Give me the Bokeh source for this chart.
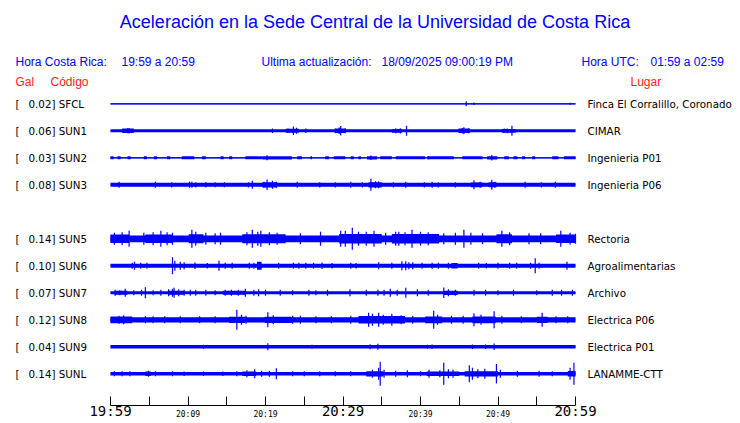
from bokeh.plotting import figure
from bokeh.models import Range1d, FixedTicker, LinearAxis, CustomJSTickFormatter
from bokeh.core.properties import value
from bokeh.embed import file_html
from bokeh.resources import INLINE

# ---------------- data ----------------
TITLE = "Aceleración en la Sede Central de la Universidad de Costa Rica"
LOCAL_LABEL = "Hora Costa Rica:"
LOCAL_SPAN = "19:59 a 20:59"
UPDATE_LABEL = "Ultima actualización:"
UPDATE_TIME = "18/09/2025 09:00:19 PM"
UTC_LABEL = "Hora UTC:"
UTC_SPAN = "01:59 a 02:59"
COL_GAL = "Gal"
COL_CODE = "Código"
COL_PLACE = "Lugar"

CODES = ["SFCL", "SUN1", "SUN2", "SUN3", "SUN4", "SUN5", "SUN6", "SUN7", "SUN8", "SUN9", "SUNL"]
GAL = [0.02, 0.06, 0.03, 0.08, None, 0.14, 0.10, 0.07, 0.12, 0.04, 0.14]
PLACES = ["Finca El Corralillo, Coronado", "CIMAR", "Ingenieria P01", "Ingenieria P06", None,
          "Rectoria", "Agroalimentarias", "Archivo", "Electrica P06", "Electrica P01", "LANAMME-CTT"]

# time axis: minutes after 19:59
TICK_MINUTES = [0, 5, 10, 15, 20, 25, 30, 35, 40, 45, 50, 55, 60]
BIG_TICK_LABELS = {"0": "19:59", "30": "20:29", "60": "20:59"}
SMALL_TICK_MINUTES = [10, 20, 40, 50]
SMALL_TICK_LABELS = {"10": "20:09", "20": "20:19", "40": "20:39", "50": "20:49"}

# background (noise) half-amplitude of each trace, relative units
BASE = [0.6, 1.5, 0.6, 2.0, None, 3.4, 2.0, 1.5, 2.6, 1.7, 1.7]

# stretches of stronger motion: (start minute, end minute, half-amplitude)
BANDS_SFCL = []
BANDS_SUN1 = [(1.5, 3.0, 2.2), (22.6, 24.3, 2.0), (29.0, 30.3, 2.2), (36.3, 37.6, 1.9),
              (44.9, 46.4, 2.2), (50.5, 52.3, 1.9)]
BANDS_SUN2 = [(0.0, 0.4, 1.5), (0.9, 1.3, 1.5), (2.2, 2.6, 1.5), (4.3, 4.7, 1.5), (5.6, 6.0, 1.5),
              (7.3, 7.7, 1.5), (9.2, 10.8, 1.5), (11.8, 12.3, 1.5), (14.2, 14.6, 1.5), (15.3, 15.7, 1.5),
              (17.4, 19.6, 1.5), (19.6, 23.4, 1.6), (24.1, 24.7, 1.5), (25.8, 26.0, 1.5), (27.7, 28.2, 1.5),
              (28.8, 30.3, 1.5), (31.0, 31.4, 1.5), (32.0, 32.3, 1.5), (33.1, 34.4, 1.6), (34.8, 36.3, 1.5),
              (36.8, 40.6, 1.5), (40.9, 44.3, 1.5), (45.4, 48.0, 1.5), (48.6, 49.9, 1.6), (50.8, 51.4, 1.5),
              (52.0, 52.5, 1.5), (53.1, 53.5, 1.5), (54.4, 54.8, 1.5), (57.0, 57.8, 1.5), (58.5, 60.0, 1.5)]
BANDS_SUN3 = [(19.6, 21.5, 2.6), (33.3, 35.0, 2.6), (46.5, 48.0, 2.4), (48.8, 49.8, 2.5)]
BANDS_SUN5 = [(0.0, 2.4, 4.3), (4.5, 8.0, 4.3), (10.1, 12.0, 4.5), (17.0, 22.6, 4.5), (29.5, 35.0, 4.8),
              (36.3, 42.4, 4.8), (49.8, 51.8, 4.5), (57.5, 60.0, 4.2)]
BANDS_SUN6 = [(18.9, 19.5, 4.0), (44.0, 44.8, 2.8)]
BANDS_SUN7 = [(0.5, 2.2, 2.0), (7.5, 9.5, 2.0), (14.5, 17.5, 2.0), (43.0, 44.8, 2.1)]
BANDS_SUN8 = [(0.0, 2.8, 3.4), (15.3, 17.4, 3.1), (19.9, 23.4, 3.1), (32.0, 38.0, 3.7), (40.6, 42.8, 3.4),
              (46.7, 49.7, 3.4), (55.0, 56.4, 3.1)]
BANDS_SUN9 = []
BANDS_SUNL = [(4.5, 5.2, 2.2), (17.0, 18.8, 2.3), (33.0, 35.2, 2.6), (40.8, 45.0, 2.3), (45.7, 50.0, 2.6),
              (59.0, 60.0, 2.8)]

# individual peaks: (minute, half-amplitude)
SPIKES_SFCL = [(45.9, 2.5), (46.9, 1.2), (59.3, 1.0)]
SPIKES_SUN1 = [(2.2, 2.5), (2.4, 2.8), (20.9, 2.2), (22.9, 2.3), (23.6, 4.3), (24.0, 3.0), (25.2, 2.2),
               (29.0, 2.4), (29.5, 3.2), (29.7, 4.7), (30.3, 2.5), (36.8, 2.5), (37.4, 2.6), (38.2, 5.0),
               (45.4, 2.8), (45.6, 3.5), (46.2, 2.4), (50.8, 2.2), (51.2, 2.4), (51.8, 5.0)]
SPIKES_SUN2 = [(20.2, 2.5), (33.6, 2.3), (41.0, 1.8), (49.2, 2.7)]
SPIKES_SUN3 = [(1.1, 3.0), (5.8, 3.0), (7.9, 2.6), (10.2, 3.0), (10.5, 3.0), (11.0, 2.6), (12.3, 2.7),
               (13.5, 2.5), (14.7, 2.5), (17.8, 2.6), (18.3, 4.0), (19.8, 3.0), (20.2, 5.3), (20.9, 4.0),
               (21.4, 3.0), (24.1, 3.0), (27.0, 2.6), (29.0, 2.6), (31.0, 3.0), (32.5, 2.6), (33.6, 6.0),
               (34.2, 3.5), (34.6, 3.5), (36.5, 2.6), (38.1, 3.0), (40.5, 2.6), (41.5, 3.0), (42.3, 2.6),
               (44.5, 2.6), (46.9, 4.5), (47.7, 3.0), (49.2, 5.0), (49.6, 3.0), (53.5, 3.0), (55.6, 2.6),
               (57.4, 3.0)]
SPIKES_SUN5 = [(0.5, 6.0), (1.5, 6.5), (2.4, 8.0), (4.3, 6.0), (5.5, 6.5), (6.5, 8.0), (7.3, 6.5), (8.0, 6.0),
               (10.5, 9.0), (11.0, 7.0), (12.3, 6.0), (13.5, 5.5), (14.2, 6.0), (17.6, 6.5), (18.3, 9.0),
               (19.0, 7.0), (19.4, 8.0), (20.5, 6.5), (21.5, 6.0), (24.5, 5.5), (27.1, 7.0), (29.7, 8.0),
               (30.3, 8.0), (31.2, 11.0), (32.0, 7.0), (33.0, 7.0), (34.0, 8.0), (35.5, 6.0), (36.8, 7.0),
               (37.2, 7.0), (38.0, 6.5), (38.9, 9.0), (40.0, 7.0), (41.0, 6.5), (43.0, 5.5), (44.5, 6.0),
               (45.6, 9.0), (46.5, 6.0), (48.0, 5.5), (50.5, 8.0), (51.5, 6.5), (54.0, 5.5), (55.5, 5.5),
               (58.1, 8.0), (59.3, 6.0), (60.0, 5.0)]
SPIKES_SUN6 = [(2.8, 3.0), (3.1, 4.0), (3.9, 3.0), (4.7, 3.0), (8.0, 8.5), (8.3, 5.0), (9.0, 4.0), (9.5, 3.5),
               (10.9, 3.2), (12.5, 2.8), (14.0, 5.0), (14.8, 3.0), (15.7, 3.0), (17.9, 3.0), (18.5, 3.0),
               (21.7, 3.0), (23.6, 3.0), (24.3, 3.0), (25.2, 3.0), (26.2, 3.0), (27.3, 3.2), (28.6, 2.8),
               (31.0, 3.0), (31.7, 2.8), (34.6, 3.5), (36.3, 3.0), (37.6, 4.5), (38.1, 4.5), (38.5, 3.5),
               (39.0, 3.5), (40.2, 3.0), (41.5, 3.0), (42.3, 3.0), (43.6, 3.0), (47.5, 3.0), (48.5, 2.8),
               (50.0, 3.0), (51.5, 3.0), (52.4, 3.0), (54.2, 3.0), (54.8, 7.5), (55.3, 3.0), (58.9, 4.0)]
SPIKES_SUN7 = [(0.6, 3.0), (1.2, 2.5), (1.9, 4.0), (3.0, 2.5), (4.0, 3.0), (4.5, 5.5), (5.5, 2.5), (6.5, 3.0),
               (7.5, 3.5), (8.0, 4.0), (8.2, 5.0), (8.8, 3.5), (9.5, 3.0), (10.3, 3.0), (11.0, 3.0),
               (12.3, 3.0), (13.5, 2.5), (14.8, 3.0), (15.6, 3.0), (16.5, 3.0), (17.4, 4.0), (18.5, 3.0),
               (19.1, 3.5), (20.0, 3.0), (21.9, 3.0), (23.5, 2.5), (25.6, 3.0), (26.5, 2.5), (28.0, 3.0),
               (30.9, 3.5), (33.0, 3.0), (34.5, 3.0), (35.3, 3.0), (36.1, 4.0), (37.0, 3.0), (38.1, 5.0),
               (39.6, 3.5), (41.0, 3.0), (43.0, 5.3), (43.6, 3.5), (44.5, 3.0), (46.9, 3.0), (48.4, 3.0),
               (50.0, 2.5), (52.0, 3.0), (55.0, 2.5), (57.0, 3.0), (58.2, 3.0), (59.6, 3.0)]
SPIKES_SUN8 = [(1.1, 4.0), (1.7, 4.5), (4.5, 3.5), (5.5, 3.5), (7.0, 3.5), (9.0, 3.5), (11.5, 3.5),
               (13.5, 3.5), (16.3, 10.0), (16.9, 5.0), (17.5, 4.0), (20.3, 7.5), (21.0, 4.5), (23.5, 4.0),
               (24.5, 4.0), (26.5, 3.5), (28.5, 3.5), (31.0, 4.0), (33.3, 7.0), (33.8, 6.0), (34.6, 7.0),
               (35.2, 5.0), (36.3, 6.0), (37.5, 4.5), (39.0, 4.0), (41.7, 9.0), (42.2, 5.0), (44.0, 4.0),
               (45.5, 4.0), (46.9, 6.5), (47.8, 5.0), (49.5, 8.5), (50.5, 4.0), (53.0, 3.5), (55.7, 7.0),
               (57.5, 3.5), (59.0, 3.5)]
SPIKES_SUN9 = [(12.0, 2.0), (20.3, 3.5), (26.0, 2.0), (33.5, 2.5), (34.5, 3.0), (40.9, 2.0), (41.5, 2.2),
               (46.7, 2.3), (48.4, 2.3), (49.5, 3.3)]
SPIKES_SUNL = [(0.5, 2.5), (1.5, 2.5), (2.5, 2.5), (4.9, 3.0), (5.8, 2.5), (8.0, 2.5), (9.5, 2.3), (12.0, 2.3),
               (14.5, 2.3), (16.3, 2.5), (17.6, 3.5), (18.6, 4.5), (19.5, 3.0), (20.5, 3.0), (21.4, 5.5),
               (23.5, 2.5), (25.0, 2.5), (27.0, 2.5), (29.0, 2.5), (31.0, 2.5), (33.8, 4.0), (34.6, 6.0),
               (34.8, 12.0), (35.3, 4.0), (36.8, 3.0), (38.3, 3.5), (40.0, 2.5), (41.1, 4.0), (42.5, 3.5),
               (43.0, 11.0), (43.6, 4.5), (44.2, 4.0), (46.3, 8.5), (46.7, 6.0), (47.4, 4.5), (48.3, 5.0),
               (49.8, 9.7), (50.3, 4.0), (52.5, 3.0), (55.3, 3.0), (57.0, 2.5), (59.3, 6.0), (59.8, 11.0)]

BANDS = [BANDS_SFCL, BANDS_SUN1, BANDS_SUN2, BANDS_SUN3, None, BANDS_SUN5, BANDS_SUN6,
         BANDS_SUN7, BANDS_SUN8, BANDS_SUN9, BANDS_SUNL]
SPIKES = [SPIKES_SFCL, SPIKES_SUN1, SPIKES_SUN2, SPIKES_SUN3, None, SPIKES_SUN5, SPIKES_SUN6,
          SPIKES_SUN7, SPIKES_SUN8, SPIKES_SUN9, SPIKES_SUNL]

# ---------------- layout ----------------
BLUE = "#0000ff"
RED = "#ff1a1a"
W, H = 740, 423
PX_PER_MIN = 7.75           # horizontal scale
LEFT_PX = 110               # where minute 0 sits on the canvas
BOTTOM_BORDER = 18
FRAME_BOTTOM = H - BOTTOM_BORDER   # canvas row of the frame bottom (axis line)
SANS = value("Liberation Sans")
DEJA = value("DejaVu Sans")


def X(px):
    """reference-pixel column -> minutes"""
    return (px - LEFT_PX) / PX_PER_MIN


x0 = -LEFT_PX / PX_PER_MIN
x_range = Range1d(x0, x0 + W / PX_PER_MIN)
y_range = Range1d(FRAME_BOTTOM, 0)   # vertical data unit = reference pixel rows (inverted)

p = figure(width=W, height=H, x_range=x_range, y_range=y_range,
           output_backend="svg", toolbar_location=None,
           x_axis_location="below", y_axis_location=None,
           min_border=0, min_border_left=0, min_border_right=0, min_border_top=0,
           min_border_bottom=BOTTOM_BORDER)
p.grid.visible = False
p.outline_line_color = None
p.background_fill_color = "white"
p.border_fill_color = "white"

# traces
ql, qr, qt, qb = [], [], [], []
sx, sy0, sy1 = [], [], []
cx0, cx1, cy = [], [], []
for k, code in enumerate(CODES):
    if GAL[k] is None:
        continue
    yc = 103.3 + 27 * k
    b = BASE[k]
    ql.append(0); qr.append(60); qt.append(yc - b); qb.append(yc + b)
    for (s, e, h) in BANDS[k]:
        ql.append(s); qr.append(e); qt.append(yc - h); qb.append(yc + h)
    for (t, a) in SPIKES[k]:
        sx.append(t); sy0.append(yc - a); sy1.append(yc + a)
    cx0.append(0); cx1.append(60); cy.append(yc)

p.quad(left=ql, right=qr, top=qt, bottom=qb, fill_color=BLUE, line_color=None)
p.segment(x0=cx0, y0=cy, x1=cx1, y1=cy, line_color=BLUE, line_width=1)
p.segment(x0=sx, y0=sy0, x1=sx, y1=sy1, line_color=BLUE, line_width=1.2)

# title & headers
p.text(x=[X(374.5)], y=[21], text=[TITLE], text_align="center", text_baseline="middle",
       text_font=SANS, text_font_size=value("18px"), text_color=BLUE)
p.text(x=[X(15), X(121), X(261), X(381), X(581), X(650)], y=[61] * 6,
       text=[LOCAL_LABEL, LOCAL_SPAN, UPDATE_LABEL, UPDATE_TIME, UTC_LABEL, UTC_SPAN],
       text_align="left", text_baseline="middle", text_font=SANS,
       text_font_size=value("12px"), text_color=BLUE)
p.text(x=[X(15), X(50), X(630)], y=[81] * 3, text=[COL_GAL, COL_CODE, COL_PLACE],
       text_align="left", text_baseline="middle", text_font=SANS,
       text_font_size=value("12px"), text_color=RED)

# per-trace labels
ly, ltxt, rtxt = [], [], []
for k, code in enumerate(CODES):
    if GAL[k] is None:
        continue
    ly.append(103.3 + 27 * k)
    ltxt.append(f"{GAL[k]:.2f}] {code}")
    rtxt.append(PLACES[k])
p.text(x=[X(15)] * len(ly), y=ly, text=["["] * len(ly), text_align="left", text_baseline="middle",
       text_font=DEJA, text_font_size=value("10.3px"), text_color="black")
p.text(x=[X(28)] * len(ly), y=ly, text=ltxt, text_align="left", text_baseline="middle",
       text_font=DEJA, text_font_size=value("10.3px"), text_color="black")
p.text(x=[X(587)] * len(ly), y=ly, text=rtxt, text_align="left", text_baseline="middle",
       text_font=DEJA, text_font_size=value("10.3px"), text_color="black")

# time axis: line + ticks + big hour labels
ax = p.xaxis[0]
ax.ticker = FixedTicker(ticks=TICK_MINUTES)
ax.bounds = (0, 60)
ax.formatter = CustomJSTickFormatter(args=dict(labels=BIG_TICK_LABELS),
                                     code="const s = labels[String(Math.round(tick))]; return s ? s : '';")
ax.major_tick_in = 9
ax.major_tick_out = 0
ax.minor_tick_in = 0
ax.minor_tick_out = 0
ax.minor_tick_line_color = None
ax.axis_line_color = "black"
ax.major_tick_line_color = "black"
ax.major_label_standoff = -3
ax.major_label_text_font = "DejaVu Sans Mono"
ax.major_label_text_font_size = "14px"
ax.major_label_text_color = "black"

# small labels on a second axis, pulled up into the same band
ax2 = LinearAxis(ticker=FixedTicker(ticks=SMALL_TICK_MINUTES),
                 formatter=CustomJSTickFormatter(args=dict(labels=SMALL_TICK_LABELS),
                                                 code="const s = labels[String(Math.round(tick))]; return s ? s : '';"),
                 axis_line_color=None, major_tick_line_color=None, minor_tick_line_color=None,
                 major_tick_in=0, major_tick_out=0, minor_tick_in=0, minor_tick_out=0,
                 major_label_standoff=-12,
                 major_label_text_font="DejaVu Sans Mono", major_label_text_font_size="8px",
                 major_label_text_color="black")
p.add_layout(ax2, "below")

open("out.html", "w").write(file_html(p, INLINE))
